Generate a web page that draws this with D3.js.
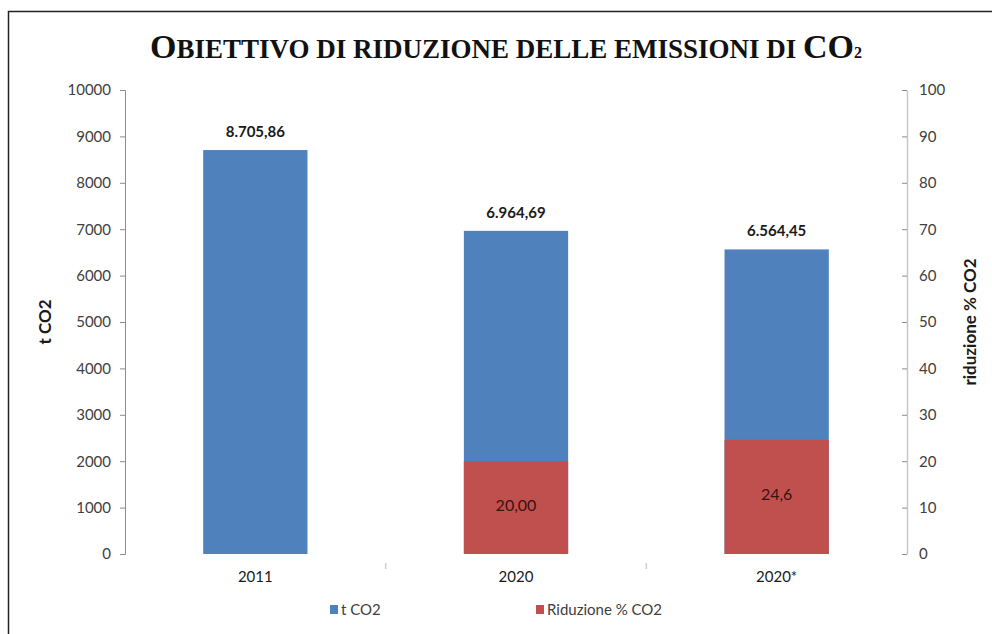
<!DOCTYPE html>
<html>
<head>
<meta charset="utf-8">
<script src="https://cdn.jsdelivr.net/npm/d3@7"></script>
<style>
  body { margin: 0; background: #fff; }
  text { font-family: Lato, "Open Sans", sans-serif; }
</style>
</head>
<body>
<div id="chart"></div>
<script>
// categories and series
var categories = ["2011", "2020", "2020*"];
var tco2 = [8705.86, 6964.69, 6564.45];
var tco2Labels = ["8.705,86", "6.964,69", "6.564,45"];
var riduzione = [null, 20.00, 24.6];
var riduzioneLabels = ["", "20,00", "24,6"];
var leftTicks = [0, 1000, 2000, 3000, 4000, 5000, 6000, 7000, 8000, 9000, 10000];
var rightTicks = [0, 10, 20, 30, 40, 50, 60, 70, 80, 90, 100];

var W = 992, H = 634;
var blue = "#4f81bd", red = "#c0504d";
var axisColor = "#8c8c8c";

var svg = d3.select("#chart").append("svg")
    .attr("width", W)
    .attr("height", H);

svg.append("rect").attr("width", W).attr("height", H).attr("fill", "#fff");

// outer frame
svg.append("rect")
    .attr("x", 8.5).attr("y", 11.5)
    .attr("width", W + 20).attr("height", H + 20)
    .attr("fill", "none")
    .attr("stroke", "#222")
    .attr("stroke-width", 1.5);

// plot area
var pLeft = 125, pRight = 907, pTop = 90, pBottom = 554;

var x = d3.scaleBand()
    .domain(categories)
    .range([pLeft, pRight])
    .paddingInner(0.6)
    .paddingOuter(0.3);

var yL = d3.scaleLinear().domain([0, 10000]).range([pBottom, pTop]);
var yR = d3.scaleLinear().domain([0, 100]).range([pBottom, pTop]);

// title, hand made small caps
var titleParts = [
  {t: "O", big: true}, {t: "BIETTIVO DI RIDUZIONE DELLE EMISSIONI DI ", big: false},
  {t: "CO", big: true}, {t: "2", sub: true}
];
var title = svg.append("text")
    .attr("x", 506).attr("y", 58)
    .attr("text-anchor", "middle")
    .style("font-family", "'Liberation Serif', 'DejaVu Serif', serif")
    .style("font-weight", "bold")
    .attr("fill", "#111");
title.selectAll("tspan")
    .data(titleParts)
    .enter().append("tspan")
    .style("font-size", function(d) { return d.big ? "34px" : (d.sub ? "16px" : "27px"); })
    .text(function(d) { return d.t; });

// left axis
var gL = svg.append("g")
    .attr("transform", "translate(" + pLeft + ",0)")
    .call(d3.axisLeft(yL).tickValues(leftTicks).tickSize(5).tickPadding(9).tickFormat(d3.format("d")));
gL.select(".domain").attr("stroke", axisColor);
gL.selectAll(".tick line").attr("stroke", axisColor);
gL.selectAll(".tick text")
    .style("font-size", "15px")
    .style("font-family", "Lato, sans-serif")
    .attr("fill", "#404040");

// right axis, ticks pointing inward
var gR = svg.append("g")
    .attr("transform", "translate(" + pRight + ",0)")
    .call(d3.axisRight(yR).tickValues(rightTicks).tickSize(0).tickPadding(12));
gR.select(".domain").attr("stroke", "#c8c8c8").attr("stroke-width", 1.5);
gR.selectAll(".tick line").attr("x1", -5).attr("x2", 0).attr("stroke", axisColor);
gR.selectAll(".tick text")
    .style("font-size", "15px")
    .style("font-family", "Lato, sans-serif")
    .attr("fill", "#404040");

// faint category separators
var seps = categories.slice(1);
svg.selectAll(".sep")
    .data(seps)
    .enter().append("line")
    .attr("class", "sep")
    .attr("x1", function(d) { return x(d) - x.step() * x.paddingInner() / 2; })
    .attr("x2", function(d) { return x(d) - x.step() * x.paddingInner() / 2; })
    .attr("y1", pBottom + 9).attr("y2", pBottom + 15)
    .attr("stroke", "#d0d0d0")
    .attr("stroke-width", 1.5);

// blue bars (t CO2)
svg.selectAll(".bar-blue")
    .data(tco2)
    .enter().append("rect")
    .attr("class", "bar-blue")
    .attr("x", function(d, i) { return x(categories[i]); })
    .attr("width", x.bandwidth())
    .attr("y", function(d) { return yL(d); })
    .attr("height", function(d) { return yL(0) - yL(d); })
    .attr("fill", blue);

// red bars (riduzione %), on secondary axis
svg.selectAll(".bar-red")
    .data(riduzione)
    .enter().append("rect")
    .attr("class", "bar-red")
    .attr("x", function(d, i) { return x(categories[i]); })
    .attr("width", x.bandwidth())
    .attr("y", function(d) { return yR(d || 0); })
    .attr("height", function(d) { return yR(0) - yR(d || 0); })
    .attr("fill", red);

// value labels
svg.selectAll(".lab-blue")
    .data(tco2)
    .enter().append("text")
    .attr("class", "lab-blue")
    .attr("x", function(d, i) { return x(categories[i]) + x.bandwidth() / 2; })
    .attr("y", function(d) { return yL(d) - 13; })
    .attr("text-anchor", "middle")
    .style("font-size", "15px")
    .style("font-weight", "bold")
    .attr("fill", "#1a1a1a")
    .text(function(d, i) { return tco2Labels[i]; });

svg.selectAll(".lab-red")
    .data(riduzione)
    .enter().append("text")
    .attr("class", "lab-red")
    .attr("x", function(d, i) { return x(categories[i]) + x.bandwidth() / 2; })
    .attr("y", function(d) { return d == null ? 0 : (yR(d) + yR(0)) / 2 + 3; })
    .attr("text-anchor", "middle")
    .style("font-size", "16px")
    .attr("fill", "#3a1010")
    .text(function(d, i) { return riduzioneLabels[i]; });

// category labels
svg.selectAll(".cat")
    .data(categories)
    .enter().append("text")
    .attr("class", "cat")
    .attr("x", function(d) { return x(d) + x.bandwidth() / 2; })
    .attr("y", 582)
    .attr("text-anchor", "middle")
    .style("font-size", "15px")
    .attr("fill", "#1a1a1a")
    .text(function(d) { return d; });

// axis titles
svg.append("text")
    .attr("transform", "translate(51," + ((pTop + pBottom) / 2) + ") rotate(-90)")
    .attr("text-anchor", "middle")
    .style("font-size", "17px")
    .style("font-weight", "bold")
    .attr("fill", "#1a1a1a")
    .text("t CO2");

svg.append("text")
    .attr("transform", "translate(976," + ((pTop + pBottom) / 2) + ") rotate(-90)")
    .attr("text-anchor", "middle")
    .style("font-size", "17px")
    .style("font-weight", "bold")
    .attr("fill", "#1a1a1a")
    .text("riduzione % CO2");

// legend
var legend = [{name: "t CO2", color: blue, x: 330}, {name: "Riduzione % CO2", color: red, x: 536}];
var lg = svg.selectAll(".legend")
    .data(legend)
    .enter().append("g")
    .attr("class", "legend")
    .attr("transform", function(d) { return "translate(" + d.x + ",610)"; });
lg.append("rect")
    .attr("x", 0).attr("y", -5)
    .attr("width", 8).attr("height", 9)
    .attr("fill", function(d) { return d.color; });
lg.append("text")
    .attr("x", 11).attr("y", 5)
    .style("font-size", "15px")
    .attr("fill", "#404040")
    .text(function(d) { return d.name; });
</script>
</body>
</html>
